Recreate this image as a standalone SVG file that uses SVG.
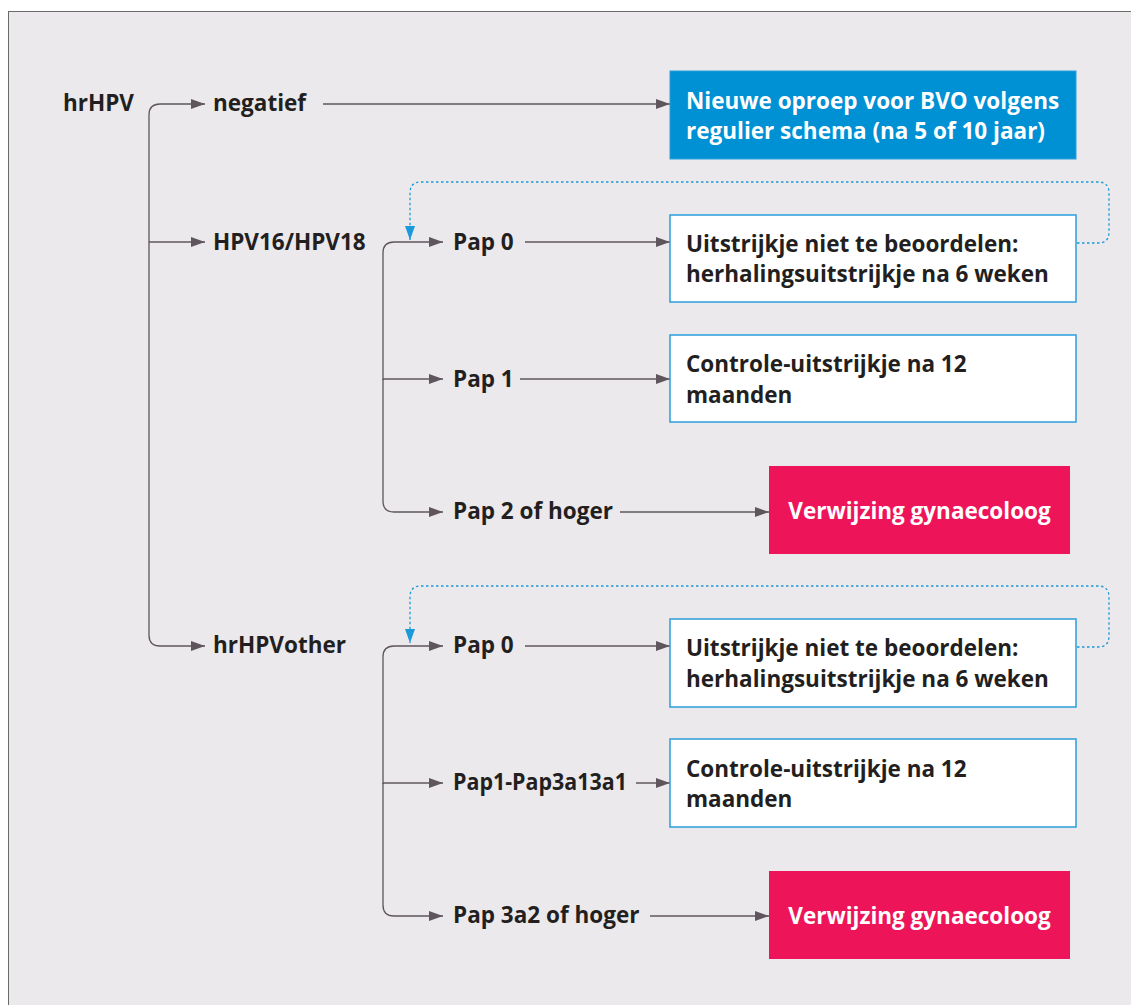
<svg xmlns="http://www.w3.org/2000/svg" width="1131" height="1005" viewBox="0 0 1131 1005">
<defs>
<style>
.lbl{font-family:"Open Sans",Lato,"Liberation Sans",sans-serif;font-weight:700;font-size:22.5px;fill:#231f20}
.wt{font-family:"Open Sans",Lato,"Liberation Sans",sans-serif;font-weight:700;font-size:22.5px;fill:#ffffff}
.ln{fill:none;stroke:#5f565d;stroke-width:1.3}
.dot{fill:none;stroke:#1a9ad9;stroke-width:1.3;stroke-dasharray:2.5 2.5}
.wbox{fill:#ffffff;stroke:#2b9fdc;stroke-width:1.5}
</style>
<marker id="ah" markerWidth="14" markerHeight="10" refX="14" refY="5" orient="auto" markerUnits="userSpaceOnUse">
<path d="M0,0 L14,5 L0,10 Z" fill="#5f565d"/>
</marker>
<marker id="bh" markerWidth="10" markerHeight="14" refX="5" refY="14" orient="0" markerUnits="userSpaceOnUse">
<path d="M0,0 L10,0 L5,14 Z" fill="#1a9ad9"/>
</marker>
</defs>
<rect x="8.5" y="11.5" width="1140" height="1010" fill="#ebe9ec" stroke="#6a6a6a" stroke-width="1"/>

<g id="connectors">
<path class="ln" d="M149,300 V115 Q149,104 160,104 H205" marker-end="url(#ah)"/>
<path class="ln" d="M149,300 V635 Q149,646 160,646 H205" marker-end="url(#ah)"/>
<path class="ln" d="M149,242 H205" marker-end="url(#ah)"/>
<path class="ln" d="M323,104 H670" marker-end="url(#ah)"/>
<path class="ln" d="M383,380 V253 Q383,242 394,242 H443" marker-end="url(#ah)"/>
<path class="ln" d="M383,379 V501 Q383,512 394,512 H443" marker-end="url(#ah)"/>
<path class="ln" d="M383,379 H443" marker-end="url(#ah)"/>
<path class="ln" d="M525,242 H670" marker-end="url(#ah)"/>
<path class="ln" d="M520,379 H670" marker-end="url(#ah)"/>
<path class="ln" d="M620,512 H769" marker-end="url(#ah)"/>
<path class="ln" d="M383,784 V657 Q383,646 394,646 H443" marker-end="url(#ah)"/>
<path class="ln" d="M383,783 V905 Q383,916 394,916 H443" marker-end="url(#ah)"/>
<path class="ln" d="M383,783 H443" marker-end="url(#ah)"/>
<path class="ln" d="M525,646 H670" marker-end="url(#ah)"/>
<path class="ln" d="M636,783 H670" marker-end="url(#ah)"/>
<path class="ln" d="M650,916 H769" marker-end="url(#ah)"/>
<path class="dot" d="M1077,243 H1098 Q1109,243 1109,232 V193 Q1109,182 1098,182 H421 Q410,182 410,193 V240" marker-end="url(#bh)"/>
<path class="dot" d="M1077,647 H1098 Q1109,647 1109,636 V597 Q1109,586 1098,586 H421 Q410,586 410,597 V643" marker-end="url(#bh)"/>
</g>

<g id="n-hrhpv"><text class="lbl" x="63" y="111">hrHPV</text></g>
<g id="n-negatief"><text class="lbl" x="213" y="111">negatief</text></g>
<g id="n-hpv1618"><text class="lbl" x="213" y="250">HPV16/HPV18</text></g>
<g id="n-hrhpvother"><text class="lbl" x="213" y="653">hrHPVother</text></g>
<g id="n-pap0a"><text class="lbl" x="453" y="250">Pap 0</text></g>
<g id="n-pap1"><text class="lbl" x="453" y="387">Pap 1</text></g>
<g id="n-pap2"><text class="lbl" x="453" y="519">Pap 2 of hoger</text></g>
<g id="n-pap0b"><text class="lbl" x="453" y="653">Pap 0</text></g>
<g id="n-pap13"><text class="lbl" x="453" y="790" textLength="174" lengthAdjust="spacingAndGlyphs">Pap1-Pap3a13a1</text></g>
<g id="n-pap3a2"><text class="lbl" x="453" y="923">Pap 3a2 of hoger</text></g>

<g id="n-nieuwe">
<rect x="670" y="71" width="406" height="88" fill="#0090d4" stroke="#2aa0dc" stroke-width="1"/>
<text class="wt" x="686" y="109">Nieuwe oproep voor BVO volgens</text>
<text class="wt" x="686" y="139">regulier schema (na 5 of 10 jaar)</text>
</g>
<g id="n-uit1">
<rect class="wbox" x="670" y="215" width="406" height="87"/>
<text class="lbl" x="686" y="252">Uitstrijkje niet te beoordelen:</text>
<text class="lbl" x="686" y="282">herhalingsuitstrijkje na 6 weken</text>
</g>
<g id="n-contr1">
<rect class="wbox" x="670" y="335" width="406" height="87"/>
<text class="lbl" x="686" y="372">Controle-uitstrijkje na 12</text>
<text class="lbl" x="686" y="403">maanden</text>
</g>
<g id="n-verw1">
<rect x="769" y="466" width="301" height="88" fill="#ee145a"/>
<text class="wt" x="919.5" y="519" text-anchor="middle">Verwijzing gynaecoloog</text>
</g>
<g id="n-uit2">
<rect class="wbox" x="670" y="619" width="406" height="88"/>
<text class="lbl" x="686" y="656">Uitstrijkje niet te beoordelen:</text>
<text class="lbl" x="686" y="687">herhalingsuitstrijkje na 6 weken</text>
</g>
<g id="n-contr2">
<rect class="wbox" x="670" y="739" width="406" height="88"/>
<text class="lbl" x="686" y="777">Controle-uitstrijkje na 12</text>
<text class="lbl" x="686" y="807">maanden</text>
</g>
<g id="n-verw2">
<rect x="769" y="871" width="301" height="88" fill="#ee145a"/>
<text class="wt" x="919.5" y="924" text-anchor="middle">Verwijzing gynaecoloog</text>
</g>
</svg>
